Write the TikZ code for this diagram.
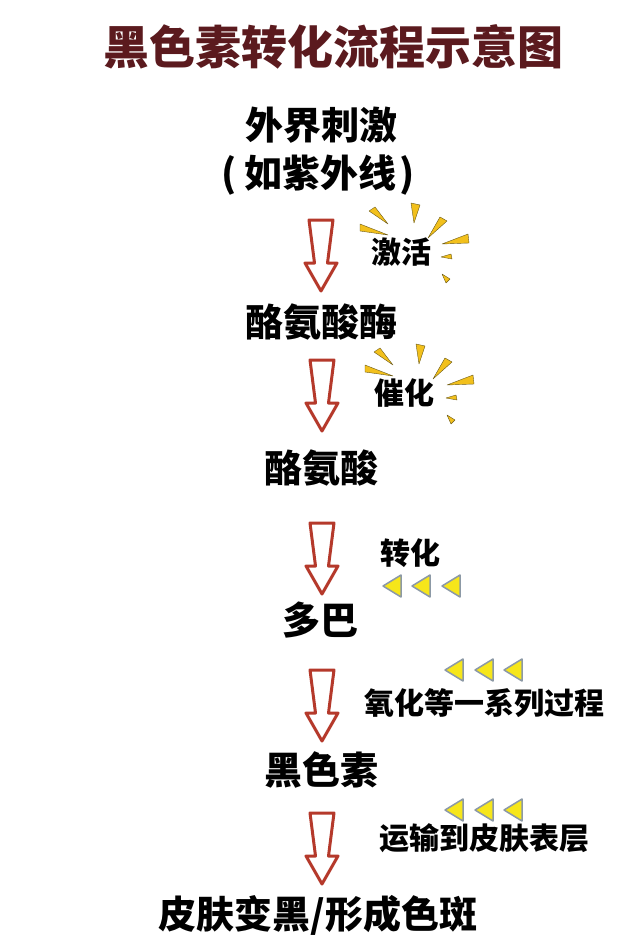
\documentclass[tikz,border=0pt]{standalone}
\usepackage{fontspec}
\setmainfont{Noto Sans CJK SC}
\definecolor{titlecol}{HTML}{5B1A1E}
\definecolor{arrowred}{HTML}{B5392B}
\definecolor{raygold}{HTML}{F2C01C}
\definecolor{rayedge}{HTML}{6B5A1A}
\definecolor{triyellow}{HTML}{F6E61A}
\definecolor{triedge}{HTML}{8C99A6}
\begin{document}
\begin{tikzpicture}[x=1pt,y=-1pt,
  big/.style={font=\bfseries\fontsize{38}{40}\selectfont, inner sep=0pt},
  small/.style={font=\bfseries\fontsize{30}{32}\selectfont, inner sep=0pt},
  titlestyle/.style={font=\bfseries\fontsize{46}{48}\selectfont, inner sep=0pt, text=titlecol},
  arrowline/.style={draw=arrowred, line width=3pt, fill=white, line join=round},
  rayshape/.style={fill=raygold, draw=rayedge, line width=0.4pt, line join=round},
  trishape/.style={fill=triyellow, draw=triedge, line width=1.5pt, line join=round},
  hollow arrow/.pic={
    \draw[arrowline] (-12,0) -- (12,0) -- (6.5,43) -- (16,43) -- (0,71) -- (-16,43) -- (-6.5,43) -- cycle;
  },
  burst/.pic={
    \draw[rayshape] (-32,-41) -- (-26,-45) -- (-13,-28) -- cycle;
    \draw[rayshape] (-41,-28) -- (-41,-21) -- (-13,-17) -- cycle;
    \draw[rayshape] (10,-49) -- (19,-47) -- (13,-29) -- cycle;
    \draw[rayshape] (39,-35) -- (46,-31) -- (27,-14) -- cycle;
    \draw[rayshape] (67,-18) -- (68,-9) -- (41,-8) -- cycle;
    \draw[rayshape] (50,2) -- (51,7) -- (40,5) -- cycle;
    \draw[rayshape] (41,22) -- (49,27) -- (45,31) -- cycle;
  },
  leftri/.pic={
    \draw[trishape] (0,0) -- (18,-11) -- (18,11) -- cycle;
  }
]
\fill[white] (0,0) rectangle (639,952);
\useasboundingbox (0,0) rectangle (639,952);

% title
\node[titlestyle] (title) at (333,47) {黑色素转化流程示意图};

% main steps
\node[big] (s1a) at (321,125) {外界刺激};
\node[big] (s1b) at (318,175) {(\hspace{8pt}如紫外线\hspace{3pt})};
\node[big] (s2) at (321,322) {酪氨酸酶};
\node[big] (s3) at (321,468) {酪氨酸};
\node[big] (s4) at (320,620) {多巴};
\node[big] (s5) at (321,770) {黑色素};
\node[big] (s6) at (318,915) {皮肤变黑/形成色斑};

% side labels
\node[small] (l1) at (401,252) {激活};
\node[small] (l2) at (404,393) {催化};
\node[small] (l3) at (410,553) {转化};
\node[small] (l4) at (484,703) {氧化等一系列过程};
\node[small] (l5) at (484,838) {运输到皮肤表层};

% hollow arrows
\pic at (321,220) {hollow arrow};
\pic at (322,360) {hollow arrow};
\pic at (322,523) {hollow arrow};
\pic at (322,670) {hollow arrow};
\pic at (322,813) {hollow arrow};

% bursts
\pic at (l1.center) {burst};
\pic at ([xshift=2pt]l2.center) {burst};

% triangle groups
\foreach \x in {383,412,442} \pic at (\x,586) {leftri};
\foreach \x in {445,475,504} \pic at (\x,670) {leftri};
\foreach \x in {445,475,504} \pic at (\x,810) {leftri};
\end{tikzpicture}
\end{document}
